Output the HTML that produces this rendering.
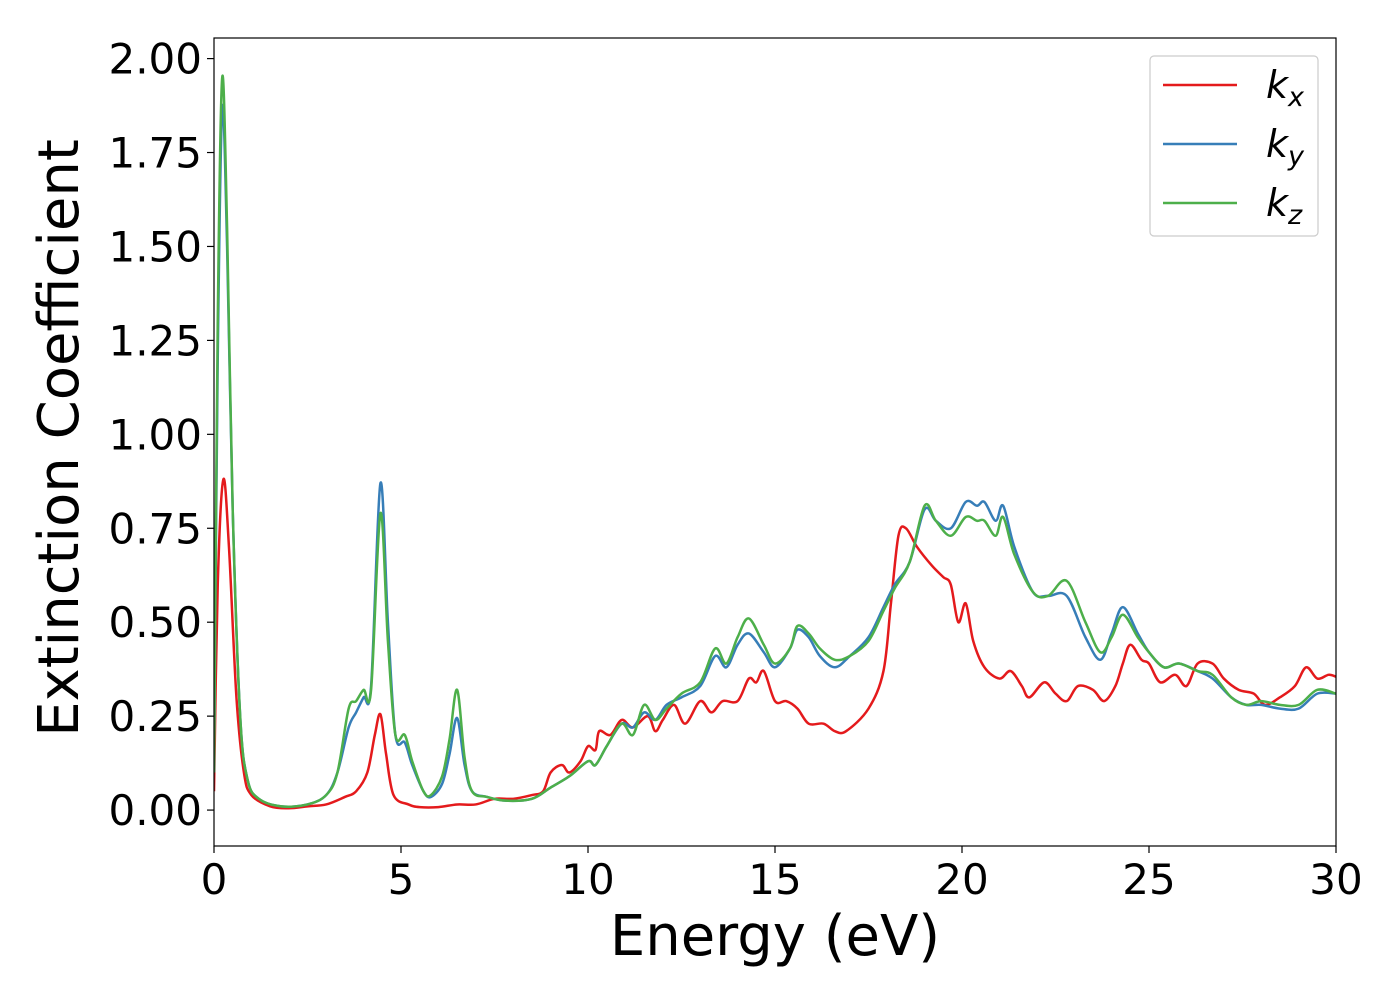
<!DOCTYPE html>
<html><head><meta charset="utf-8"><style>
body{margin:0;background:#fff;}
svg text{font-family:"DejaVu Sans","Liberation Sans",sans-serif;fill:#000;}
</style></head><body>
<svg id="chart" width="1400" height="1000" xmlns="http://www.w3.org/2000/svg">
<g id="plot"></g>
</svg>
<script>
const xTickLabels=["0","5","10","15","20","25","30"];
const yTickLabels=["0.00","0.25","0.50","0.75","1.00","1.25","1.50","1.75","2.00"];
const kxE=[0,0.1,0.25,0.4,0.6,0.8,1.0,1.5,2,2.5,3,3.5,3.8,4.1,4.3,4.45,4.6,4.8,5.2,5.5,6,6.5,7,7.5,8,8.5,8.8,9,9.3,9.5,9.8,10,10.2,10.3,10.6,10.9,11.2,11.6,11.8,12,12.3,12.6,13,13.3,13.6,14,14.3,14.5,14.7,15,15.3,15.6,15.9,16.3,16.6,16.9,17.5,17.9,18.1,18.3,18.5,18.8,19.2,19.5,19.7,19.9,20.1,20.3,20.6,21.0,21.3,21.6,21.8,22.2,22.5,22.8,23.1,23.5,23.8,24.1,24.3,24.5,24.8,25.0,25.3,25.7,26.0,26.3,26.7,27.0,27.4,27.8,28.1,28.5,28.9,29.2,29.5,29.8,30];
const kxV=[0.05,0.6,0.88,0.7,0.3,0.1,0.04,0.01,0.005,0.01,0.015,0.035,0.05,0.1,0.2,0.255,0.15,0.04,0.015,0.008,0.008,0.015,0.015,0.03,0.03,0.04,0.05,0.1,0.12,0.1,0.13,0.17,0.16,0.21,0.2,0.24,0.22,0.25,0.21,0.24,0.28,0.23,0.29,0.26,0.29,0.29,0.35,0.34,0.37,0.29,0.29,0.27,0.23,0.23,0.21,0.21,0.27,0.37,0.55,0.73,0.75,0.7,0.65,0.62,0.6,0.5,0.55,0.45,0.38,0.35,0.37,0.33,0.3,0.34,0.31,0.29,0.33,0.32,0.29,0.33,0.39,0.44,0.4,0.39,0.34,0.36,0.33,0.39,0.39,0.35,0.32,0.31,0.28,0.3,0.33,0.38,0.35,0.36,0.355];
const kyE=[0,0.1,0.22,0.35,0.5,0.7,0.9,1.2,1.8,2.5,3,3.3,3.6,3.8,4.0,4.2,4.45,4.65,4.85,5.1,5.3,5.6,5.8,6.1,6.3,6.5,6.7,6.9,7.3,7.8,8.5,9,9.5,10,10.2,10.5,10.9,11.2,11.5,11.8,12.1,12.5,13,13.4,13.7,14,14.3,14.7,15,15.4,15.6,15.9,16.2,16.6,17,17.5,17.9,18.2,18.6,19,19.3,19.7,20.1,20.4,20.6,20.9,21.1,21.4,21.9,22.3,22.8,23.3,23.7,24.0,24.3,24.7,25,25.4,25.8,26.3,26.7,27.2,27.6,28,28.5,29,29.5,30];
const kyV=[0.1,1.2,1.87,1.5,0.8,0.25,0.08,0.03,0.01,0.015,0.04,0.1,0.22,0.26,0.3,0.33,0.87,0.5,0.2,0.18,0.12,0.05,0.035,0.07,0.15,0.245,0.12,0.05,0.035,0.025,0.03,0.06,0.09,0.13,0.12,0.17,0.23,0.22,0.26,0.24,0.28,0.3,0.33,0.41,0.38,0.44,0.47,0.42,0.38,0.43,0.48,0.46,0.41,0.38,0.41,0.46,0.54,0.6,0.66,0.8,0.77,0.75,0.82,0.81,0.82,0.77,0.81,0.7,0.58,0.57,0.57,0.46,0.4,0.47,0.54,0.47,0.42,0.38,0.39,0.37,0.35,0.3,0.28,0.28,0.27,0.27,0.31,0.31];
const kzE=kyE;
const kzV=[0.1,1.3,1.95,1.55,0.8,0.25,0.08,0.03,0.01,0.015,0.04,0.1,0.27,0.29,0.32,0.32,0.79,0.45,0.2,0.2,0.13,0.05,0.04,0.09,0.19,0.32,0.14,0.05,0.035,0.025,0.03,0.06,0.09,0.13,0.12,0.17,0.23,0.2,0.28,0.24,0.27,0.31,0.34,0.43,0.39,0.46,0.51,0.44,0.39,0.43,0.49,0.47,0.43,0.4,0.41,0.45,0.53,0.59,0.66,0.81,0.77,0.73,0.78,0.77,0.77,0.73,0.78,0.68,0.58,0.57,0.61,0.5,0.42,0.46,0.52,0.46,0.42,0.38,0.39,0.37,0.36,0.3,0.28,0.29,0.28,0.28,0.32,0.31];
const NS="http://www.w3.org/2000/svg";
const L=214,R=1336,T=38,B=846,xmin=0,xmax=30,ymin=-0.0956,ymax=2.0548;
const X=v=>L+(v-xmin)/(xmax-xmin)*(R-L);
const Y=v=>B-(v-ymin)/(ymax-ymin)*(B-T);
const g=document.getElementById('plot');
function mk(tag,attrs,parent){const e=document.createElementNS(NS,tag);for(const k in attrs)e.setAttribute(k,attrs[k]);(parent||g).appendChild(e);return e;}
function path(E,V){const p=E.map((e,i)=>[X(e),Y(V[i])]);let d=`M${p[0][0]},${p[0][1]}`;for(let i=0;i<p.length-1;i++){const p0=p[Math.max(0,i-1)],p1=p[i],p2=p[i+1],p3=p[Math.min(p.length-1,i+2)];const c1=[p1[0]+(p2[0]-p0[0])/6,p1[1]+(p2[1]-p0[1])/6],c2=[p2[0]-(p3[0]-p1[0])/6,p2[1]-(p3[1]-p1[1])/6];d+=` C${c1[0]},${c1[1]} ${c2[0]},${c2[1]} ${p2[0]},${p2[1]}`;}return d;}
const defs=mk('defs',{});const cp=mk('clipPath',{id:'clip'},defs);mk('rect',{x:L,y:T,width:R-L,height:B-T},cp);
const series=[[kxE,kxV,'#e41a1c','kx-line'],[kyE,kyV,'#377eb8','ky-line'],[kzE,kzV,'#4daf4a','kz-line']];
series.forEach(s=>{const p=mk('path',{d:path(s[0],s[1]),fill:'none',stroke:s[2],'stroke-width':2.5,'clip-path':'url(#clip)'});

});
const fr=mk('rect',{x:L,y:T,width:R-L,height:B-T,fill:'none',stroke:'#000','stroke-width':1.2});


xTickLabels.forEach(t=>{const x=X(+t);mk('line',{x1:x,x2:x,y1:B,y2:B+7,stroke:'#000','stroke-width':1.2});
const tx=mk('text',{x:x,y:B+48,'text-anchor':'middle','font-size':42});tx.textContent=t;

});
yTickLabels.forEach(t=>{const y=Y(+t);mk('line',{x1:L-7,x2:L,y1:y,y2:y,stroke:'#000','stroke-width':1.2});
const tx=mk('text',{x:L-12,y:y+15,'text-anchor':'end','font-size':42});tx.textContent=t;

});
const xl=mk('text',{x:(L+R)/2,y:955,'text-anchor':'middle','font-size':56});xl.textContent='Energy (eV)';


const yl=mk('text',{x:0,y:0,'text-anchor':'middle','font-size':56,transform:`translate(78,${(T+B)/2-4}) rotate(-90)`});yl.textContent='Extinction Coefficient';


const lg=mk('g',{});


mk('rect',{x:1150,y:56,width:168,height:180,rx:4,fill:'#fff',stroke:'#ccc','stroke-width':1.2},lg);
const subs=['x','y','z'];
series.forEach((s,i)=>{const y=85+i*59;mk('line',{x1:1163,x2:1237,y1:y,y2:y,stroke:s[2],'stroke-width':2.5},lg);
const t=mk('text',{x:1266,y:y+13,'font-size':38,'font-style':'italic'},lg);


t.textContent='k';const sb=mk('tspan',{'font-size':27,dy:8},t);sb.textContent=subs[i];});
</script>
</body></html>
